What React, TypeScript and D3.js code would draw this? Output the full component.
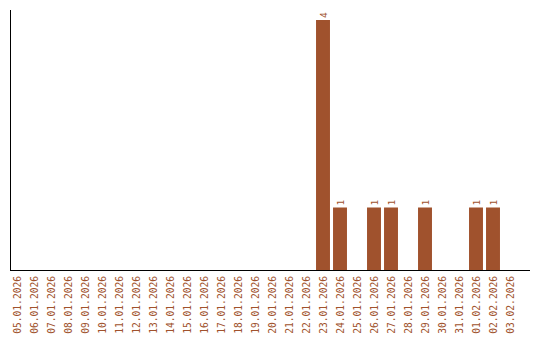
import React from "react";
import * as d3 from "d3";

const dates = [
  "05.01.2026","06.01.2026","07.01.2026","08.01.2026","09.01.2026","10.01.2026",
  "11.01.2026","12.01.2026","13.01.2026","14.01.2026","15.01.2026","16.01.2026",
  "17.01.2026","18.01.2026","19.01.2026","20.01.2026","21.01.2026","22.01.2026",
  "23.01.2026","24.01.2026","25.01.2026","26.01.2026","27.01.2026","28.01.2026",
  "29.01.2026","30.01.2026","31.01.2026","01.02.2026","02.02.2026","03.02.2026",
];
const counts = [0,0,0,0,0,0,0,0,0,0,0,0,0,0,0,0,0,0,4,1,0,1,1,0,1,0,0,1,1,0];

const W = 540, H = 340;
const color = "#a0522d";
const font = "'DejaVu Sans Mono', monospace";

export default function App() {
  const x = d3.scaleBand<string>().domain(dates).range([8.5, 518.5]).paddingInner(0.18).paddingOuter(0.09);
  const maxV = d3.max(counts) || 1;
  const y = d3.scaleLinear().domain([0, maxV * 1.04]).range([270, 10]);
  return (
    <svg width={W} height={H} style={{ position: "absolute", left: 0, top: 0 }}>
      {dates.map((d, i) =>
        counts[i] > 0 ? (
          <g key={d}>
            <rect x={x(d)} y={y(counts[i])} width={x.bandwidth()} height={y(0) - y(counts[i])} fill={color} />
            <text
              transform={`translate(${(x(d) as number) + x.bandwidth() / 2 + 3.5},${y(counts[i]) - 2}) rotate(-90)`}
              fontFamily={font} fontSize={9.5} fill={color}
            >{counts[i]}</text>
          </g>
        ) : null
      )}
      <line x1={10.5} x2={10.5} y1={10} y2={270} stroke="#000" />
      <line x1={10} x2={530} y1={270.5} y2={270.5} stroke="#000" />
      {dates.map((d) => (
        <text key={"l" + d}
          transform={`translate(${(x(d) as number) + x.bandwidth() / 2 + 3.5},276) rotate(-90)`}
          textAnchor="end" fontFamily={font} fontSize={9.6} fill={color}
        >{d}</text>
      ))}
    </svg>
  );
}
